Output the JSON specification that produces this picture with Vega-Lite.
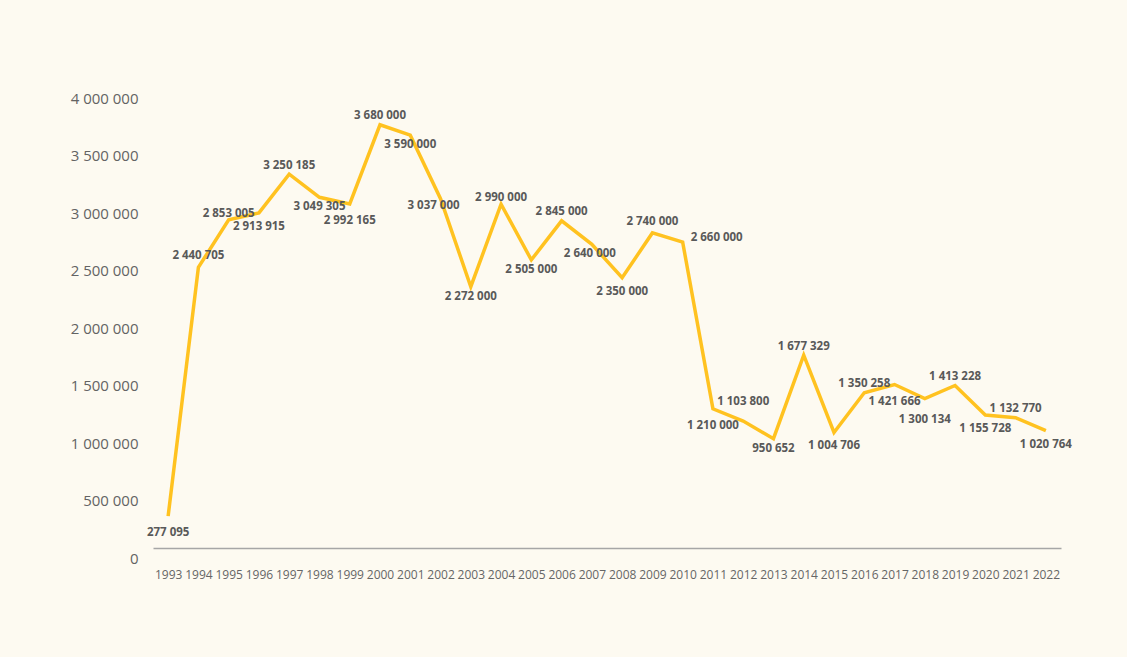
{
  "$schema": "https://vega.github.io/schema/vega-lite/v6.json",
  "autosize": {"type": "none"},
  "padding": {"left": 153, "top": 88, "right": 66, "bottom": 109},
  "width": 908,
  "height": 460,
  "background": "#fdfaf1",
  "config": {
    "view": {"stroke": null},
    "font": "Open Sans",
    "locale": {"number": {"decimal": ",", "thousands": "\u00a0", "grouping": [3], "currency": ["", ""]}},
    "text": {"fontSize": 11.5, "fontWeight": "bold", "color": "#595959"}
  },
  "data": {"values": [
    {"year": "1993", "value": 277095},
    {"year": "1994", "value": 2440705},
    {"year": "1995", "value": 2853005},
    {"year": "1996", "value": 2913915},
    {"year": "1997", "value": 3250185},
    {"year": "1998", "value": 3049305},
    {"year": "1999", "value": 2992165},
    {"year": "2000", "value": 3680000},
    {"year": "2001", "value": 3590000},
    {"year": "2002", "value": 3037000},
    {"year": "2003", "value": 2272000},
    {"year": "2004", "value": 2990000},
    {"year": "2005", "value": 2505000},
    {"year": "2006", "value": 2845000},
    {"year": "2007", "value": 2640000},
    {"year": "2008", "value": 2350000},
    {"year": "2009", "value": 2740000},
    {"year": "2010", "value": 2660000},
    {"year": "2011", "value": 1210000},
    {"year": "2012", "value": 1103800},
    {"year": "2013", "value": 950652},
    {"year": "2014", "value": 1677329},
    {"year": "2015", "value": 1004706},
    {"year": "2016", "value": 1350258},
    {"year": "2017", "value": 1421666},
    {"year": "2018", "value": 1300134},
    {"year": "2019", "value": 1413228},
    {"year": "2020", "value": 1155728},
    {"year": "2021", "value": 1132770},
    {"year": "2022", "value": 1020764}
  ]},
  "encoding": {
    "x": {
      "field": "year", "type": "ordinal",
      "scale": {"type": "point", "padding": 0.5},
      "axis": {
        "title": null, "labelAngle": 0, "ticks": false, "grid": false,
        "domainColor": "#a6a6a6", "domainWidth": 1.3,
        "labelFontSize": 12, "labelColor": "#666666", "labelPadding": 21
      }
    },
    "y": {
      "field": "value", "type": "quantitative",
      "scale": {"domain": [0, 4000000], "nice": false},
      "axis": {
        "title": null, "domain": false, "ticks": false, "grid": false,
        "values": [0, 500000, 1000000, 1500000, 2000000, 2500000, 3000000, 3500000, 4000000],
        "format": ",d", "labelFontSize": 15, "labelColor": "#636363",
        "labelPadding": 15, "labelOffset": 10
      }
    },
    "text": {"field": "value", "type": "quantitative", "format": ",d"}
  },
  "layer": [
    {
      "mark": {"type": "line", "color": "#ffc220", "strokeWidth": 3.5, "strokeJoin": "miter"},
      "encoding": {"text": null}
    },
    {
      "transform": [{"filter": {"field": "year", "oneOf": ["1995", "2004"]}}],
      "mark": {"type": "text", "dy": -6}
    },
    {
      "transform": [{"filter": {"field": "year", "oneOf": ["1997", "2000", "2006", "2014", "2016", "2019", "2021"]}}],
      "mark": {"type": "text", "dy": -8.5}
    },
    {
      "transform": [{"filter": {"field": "year", "oneOf": ["1994", "2009"]}}],
      "mark": {"type": "text", "dy": -11}
    },
    {
      "transform": [{"filter": {"field": "year", "oneOf": ["2012"]}}],
      "mark": {"type": "text", "dy": -19}
    },
    {
      "transform": [{"filter": {"field": "year", "oneOf": ["1998", "2001", "2003", "2005", "2013"]}}],
      "mark": {"type": "text", "dy": 10}
    },
    {
      "transform": [{"filter": {"field": "year", "oneOf": ["1996", "2008", "2015", "2020", "2022"]}}],
      "mark": {"type": "text", "dy": 14}
    },
    {
      "transform": [{"filter": {"field": "year", "oneOf": ["1993", "1999", "2011", "2017"]}}],
      "mark": {"type": "text", "dy": 17}
    },
    {
      "transform": [{"filter": {"field": "year", "oneOf": ["2018"]}}],
      "mark": {"type": "text", "dy": 22}
    },
    {
      "transform": [{"filter": {"field": "year", "oneOf": ["2002"]}}],
      "mark": {"type": "text", "dy": 7, "dx": -7}
    },
    {
      "transform": [{"filter": {"field": "year", "oneOf": ["2007"]}}],
      "mark": {"type": "text", "dy": 10, "dx": -2}
    },
    {
      "transform": [{"filter": {"field": "year", "oneOf": ["2010"]}}],
      "mark": {"type": "text", "align": "left", "dx": 8, "dy": -4}
    }
  ]
}
